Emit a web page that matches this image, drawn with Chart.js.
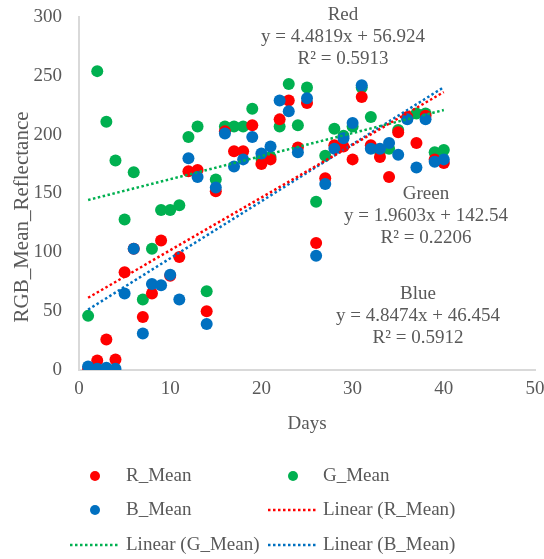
<!DOCTYPE html>
<html lang="en">
<head>
  <meta charset="UTF-8" />
  <title>RGB Mean Reflectance</title>
  <style>
    body {
      margin: 0;
      background: #ffffff;
    }

    .wrap {
      width: 544px;
      height: 559px;
    }
  </style>
</head>
<body>
  <div class="wrap">
    <canvas id="rgbChart" width="544" height="559"></canvas>
  </div>

  <script src="https://cdn.jsdelivr.net/npm/chart.js"></script>
  <script>
    const days = [1, 2, 3, 4, 5, 6, 7, 8, 9, 10, 11, 12, 13, 14, 15, 16, 17, 18, 19, 20,
                  21, 22, 23, 24, 25, 26, 27, 28, 29, 30, 31, 32, 33, 34, 35, 36, 37, 38, 39, 40];

    const rMean = [1, 8, 26, 9, 83, 103, 45, 65, 110, 80, 96, 169, 170, 50, 152, 203, 186, 186, 208, 175,
                   179, 213, 229, 189, 227, 108, 163, 191, 190, 179, 232, 191, 181, 164, 202, 215, 193, 216, 179, 176];
    const gMean = [46, 254, 211, 178, 128, 168, 60, 103, 136, 136, 140, 198, 207, 67, 162, 207, 207, 207, 222, 180,
                   181, 207, 243, 208, 240, 143, 182, 205, 199, 207, 240, 215, 186, 188, 204, 214, 218, 218, 185, 187];
    const bMean = [3, 1, 2, 1, 65, 103, 31, 73, 72, 81, 60, 180, 164, 39, 155, 201, 173, 179, 198, 184,
                   190, 229, 220, 185, 231, 97, 158, 188, 197, 210, 242, 188, 188, 193, 183, 213, 172, 213, 177, 179];

    // trendline equations as printed on the chart
    const trendNames = ['Red', 'Green', 'Blue'];
    const trendSlope = [4.4819, 1.9603, 4.8474];
    const trendIntercept = [56.924, 142.54, 46.454];
    const trendR2 = ['0.5913', '0.2206', '0.5912'];

    const xTicks = [0, 10, 20, 30, 40, 50];
    const yTicks = [0, 50, 100, 150, 200, 250, 300];

    const RED = '#ff0000';
    const GREEN = '#00b050';
    const BLUE = '#0070c0';
    const TEXT = '#595959';
    const SERIF = "'Liberation Serif', 'Times New Roman', serif";

    const toPoints = vals => days.map((d, i) => ({ x: d, y: vals[i] }));
    const trendPoints = k => [days[0], days[days.length - 1]].map(d => ({
      x: d, y: trendSlope[k] * d + trendIntercept[k]
    }));

    const dotted = (color, k, order) => ({
      label: 'Linear (' + ['R', 'G', 'B'][k] + '_Mean)',
      data: trendPoints(k),
      showLine: true,
      borderColor: color,
      borderWidth: 2.5,
      borderDash: [2.5, 2.5],
      pointRadius: 0,
      order: order
    });

    const dot = (label, vals, color, order) => ({
      label: label,
      data: toPoints(vals),
      backgroundColor: color,
      borderColor: color,
      borderWidth: 0,
      pointRadius: 6,
      order: order
    });

    // keep tick labels from shrinking the plot area
    const noPad = s => {
      s.paddingTop = 0;
      s.paddingBottom = 0;
      s.paddingLeft = 0;
      s.paddingRight = 0;
    };

    // axis titles, equation labels and the legend
    const extras = {
      id: 'extras',
      afterDraw(chart) {
        const ctx = chart.ctx;
        ctx.save();
        ctx.fillStyle = TEXT;
        ctx.font = '19px ' + SERIF;
        ctx.textAlign = 'center';
        ctx.textBaseline = 'middle';

        ctx.fillText('Days', 307, 424);

        ctx.save();
        ctx.translate(22, 217);
        ctx.rotate(-Math.PI / 2);
        ctx.font = '21px ' + SERIF;
        ctx.fillText('RGB_Mean_Reflectance', 0, 0);
        ctx.restore();

        const labelPos = [[343, 15], [426, 194], [418, 294]];
        trendNames.forEach((name, k) => {
          const [cx, cy] = labelPos[k];
          const sign = trendIntercept[k] >= 0 ? ' + ' : ' - ';
          ctx.fillText(name, cx, cy);
          ctx.fillText('y = ' + trendSlope[k].toFixed(4) + 'x' + sign + Math.abs(trendIntercept[k]), cx, cy + 22);
          ctx.fillText('R\u00b2 = ' + trendR2[k], cx, cy + 44);
        });

        // legend
        ctx.textAlign = 'left';
        const markers = [
          { type: 'dot', color: RED, x: 95, y: 476, text: 'R_Mean', tx: 126 },
          { type: 'dot', color: GREEN, x: 293, y: 476, text: 'G_Mean', tx: 323 },
          { type: 'dot', color: BLUE, x: 95, y: 510, text: 'B_Mean', tx: 126 },
          { type: 'line', color: RED, x: 268, y: 510, text: 'Linear (R_Mean)', tx: 323 },
          { type: 'line', color: GREEN, x: 70, y: 545, text: 'Linear (G_Mean)', tx: 126 },
          { type: 'line', color: BLUE, x: 268, y: 545, text: 'Linear (B_Mean)', tx: 323 }
        ];
        markers.forEach(m => {
          if (m.type === 'dot') {
            ctx.beginPath();
            ctx.fillStyle = m.color;
            ctx.arc(m.x, m.y, 5, 0, Math.PI * 2);
            ctx.fill();
          } else {
            ctx.beginPath();
            ctx.strokeStyle = m.color;
            ctx.lineWidth = 2.5;
            ctx.setLineDash([2.5, 2.5]);
            ctx.moveTo(m.x, m.y);
            ctx.lineTo(m.x + 50, m.y);
            ctx.stroke();
            ctx.setLineDash([]);
          }
          ctx.fillStyle = TEXT;
          ctx.fillText(m.text, m.tx, m.y);
        });
        ctx.restore();
      }
    };

    const ctx = document.getElementById('rgbChart').getContext('2d');
    new Chart(ctx, {
      type: 'scatter',
      data: {
        datasets: [
          dot('R_Mean', rMean, RED, 2),
          dot('G_Mean', gMean, GREEN, 3),
          dot('B_Mean', bMean, BLUE, 1),
          dotted(RED, 0, 0),
          dotted(GREEN, 1, 0),
          dotted(BLUE, 2, 0)
        ]
      },
      options: {
        responsive: false,
        animation: false,
        layout: {
          padding: { top: 17, right: 9, left: 0, bottom: 0 }
        },
        plugins: {
          legend: { display: false },
          tooltip: { enabled: false }
        },
        scales: {
          x: {
            type: 'linear',
            min: xTicks[0],
            max: xTicks[xTicks.length - 1],
            afterBuildTicks: s => { s.ticks = xTicks.map(v => ({ value: v })); },
            afterFit: s => { s.height = 189; noPad(s); },
            grid: { display: false, drawTicks: false },
            border: { display: true, color: '#d9d9d9', width: 2 },
            ticks: {
              padding: 8,
              color: TEXT,
              font: { family: SERIF, size: 19 }
            }
          },
          y: {
            type: 'linear',
            min: yTicks[0],
            max: yTicks[yTicks.length - 1],
            afterBuildTicks: s => { s.ticks = yTicks.map(v => ({ value: v })); },
            afterFit: s => { s.width = 79; noPad(s); },
            grid: { display: false, drawTicks: false },
            border: { display: true, color: '#d9d9d9', width: 2 },
            ticks: {
              padding: 17,
              color: TEXT,
              font: { family: SERIF, size: 19 }
            }
          }
        }
      },
      plugins: [extras]
    });
  </script>
</body>
</html>
